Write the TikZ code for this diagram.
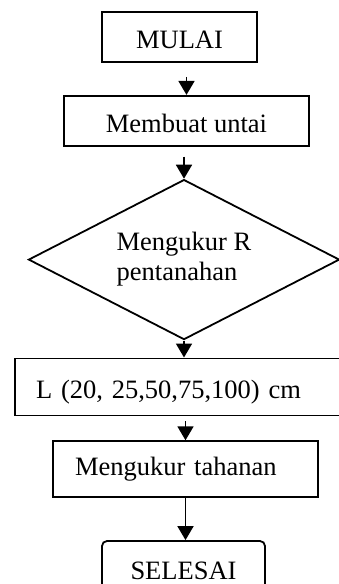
\documentclass[tikz,border=0pt]{standalone}
\usepackage{fontspec}
\setmainfont{Liberation Serif}
\usetikzlibrary{shapes,arrows.meta,positioning}

\begin{document}
\begin{tikzpicture}[x=1pt, y=1pt, node distance=32pt, font=\fontsize{26.5}{30}\selectfont, line width=1.8pt]
    \tikzset{flow/.style={-{Triangle[width=16pt,length=14pt]}},
             lowtext/.style={text height=23pt, text depth=0pt}}
    \path [use as bounding box, clip] (0,0) rectangle (339,-584);
    \node (mulai) [rectangle, draw, lowtext, minimum width=155pt, minimum height=50pt] at (179.5,-37) {MULAI};
    \node (untai) [rectangle, draw, lowtext, below=of mulai, xshift=7pt, minimum width=245pt, minimum height=50pt] {Membuat untai};
    \node (ukurR) [diamond, draw, below=of untai, xshift=-2.5pt, aspect=2, inner sep=0pt, minimum width=311pt, minimum height=160pt, align=left] {Mengukur R\\pentanahan};
    \node (panjang) [rectangle, draw, lowtext, below=17pt of ukurR, xshift=-4pt, minimum width=330pt, minimum height=57pt, text width=288pt, inner xsep=21pt, align=left] {L (20, 25,50,75,100) cm};
    \node (tahanan) [rectangle, draw, below=24pt of panjang, xshift=5.5pt, minimum width=265pt, minimum height=56pt, text width=221pt, inner xsep=22pt, align=left] {Mengukur tahanan};
    \node (selesai) [rectangle, draw, rounded corners=5pt, below=42pt of tahanan, xshift=-2pt, minimum width=163pt, minimum height=60pt] {SELESAI};

    \draw [flow, shorten <=14pt] (mulai.south -| untai.north) -- (untai.north);
    \draw [flow, shorten <=10pt] (untai.south -| ukurR.north) -- (ukurR.north);
    \draw [flow] (ukurR.south) -- (panjang.north -| ukurR.south);
    \draw [flow, shorten <=5pt] (panjang.south -| tahanan.north) -- (tahanan.north);
    \draw [flow] (tahanan.south) -- (selesai.north -| tahanan.south);
\end{tikzpicture}
\end{document}
